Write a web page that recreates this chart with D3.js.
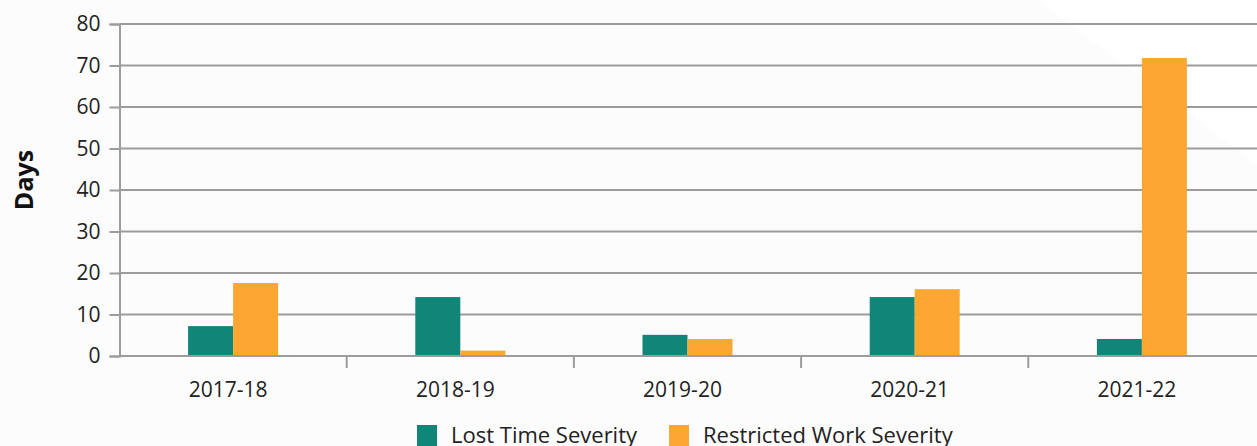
<!DOCTYPE html>
<html>
<head>
<meta charset="utf-8">
<script src="https://cdn.jsdelivr.net/npm/d3@7"></script>
<style>
  body { margin: 0; background: #fcfcfc; overflow: hidden; }
  text { font-family: "Open Sans", "Noto Sans", sans-serif; fill: #222; }
</style>
</head>
<body>
<div id="chart"></div>
<script>
// data
const years = ["2017-18", "2018-19", "2019-20", "2020-21", "2021-22"];
const lostTime = [7.2, 14.2, 5.1, 14.2, 4.1];
const restrictedWork = [17.6, 1.3, 4.1, 16.1, 71.8];
const yTicks = [0, 10, 20, 30, 40, 50, 60, 70, 80];
const seriesNames = ["Lost Time Severity", "Restricted Work Severity"];

const colors = ["#0f8677", "#fba732"];
const gridColor = "#9c9c9f";

const W = 1257, H = 446;
const margin = { top: 24, right: 1.5, bottom: 90, left: 119.5 };
const width = W - margin.left - margin.right;
const height = H - margin.top - margin.bottom;

const root = d3.select("#chart").append("svg")
    .attr("width", W)
    .attr("height", H);

// white corner at the top right of the background
root.append("polygon")
    .attr("points", `1038,0 ${W},0 ${W},165`)
    .attr("fill", "#ffffff");

const svg = root.append("g")
    .attr("transform", `translate(${margin.left},${margin.top})`);

const x0 = d3.scaleBand()
    .domain(years)
    .range([0, width]);

const x1 = d3.scaleBand()
    .domain(seriesNames)
    .range([0, 90])

const y = d3.scaleLinear()
    .domain([0, 80])
    .range([height, 0]);

// gridlines
svg.append("g")
    .selectAll("line")
    .data(yTicks.filter(d => d > 0))
    .enter()
    .append("line")
    .attr("x1", 0)
    .attr("x2", W)
    .attr("y1", d => y(d))
    .attr("y2", d => y(d))
    .attr("stroke", gridColor)
    .attr("stroke-width", 2);

// y axis
const yAxis = svg.append("g")
    .call(d3.axisLeft(y).tickValues(yTicks).tickSize(10).tickPadding(9));
yAxis.select(".domain").attr("stroke", gridColor).attr("stroke-width", 2);
yAxis.selectAll(".tick line").attr("stroke", gridColor).attr("stroke-width", 2);
yAxis.selectAll("text")
    .style("font-size", "21px")
    .style("fill", "#222")
    .style("font-family", "'Open Sans', sans-serif");

// bars
const groups = svg.selectAll(".year")
    .data(years)
    .enter()
    .append("g")
    .attr("transform", d => `translate(${x0(d) + x0.bandwidth() / 2 - 45},0)`);

groups.selectAll("rect")
    .data((d, i) => [lostTime[i], restrictedWork[i]])
    .enter()
    .append("rect")
    .attr("x", (d, j) => x1(seriesNames[j]))
    .attr("width", x1.bandwidth())
    .attr("y", d => y(d))
    .attr("height", d => height - y(d))
    .attr("fill", (d, j) => colors[j]);

// x axis
const xAxis = svg.append("g")
    .attr("transform", `translate(0,${height})`)
    .call(d3.axisBottom(x0).tickSize(0).tickPadding(26));
xAxis.select(".domain").attr("stroke", gridColor).attr("stroke-width", 2)
    .attr("d", `M0,0H${W}`);
xAxis.selectAll("text")
    .attr("dx", -5)
    .style("font-size", "21px")
    .style("fill", "#222")
    .style("font-family", "'Open Sans', sans-serif");

// separators between categories
svg.append("g")
    .selectAll("line")
    .data(years.slice(1))
    .enter()
    .append("line")
    .attr("x1", d => x0(d))
    .attr("x2", d => x0(d))
    .attr("y1", height)
    .attr("y2", height + 12)
    .attr("stroke", gridColor)
    .attr("stroke-width", 2);

// y label
root.append("text")
    .attr("transform", `translate(33,${margin.top + height / 2 - 10}) rotate(-90)`)
    .style("text-anchor", "middle")
    .style("font-weight", "bold")
    .style("font-size", "25px")
    .style("fill", "#111")
    .text("Days");

// legend
const legend = root.append("g").attr("transform", "translate(417,425)");
const legendX = [0, 252];
seriesNames.forEach((name, i) => {
    const item = legend.append("g").attr("transform", `translate(${legendX[i]},0)`);
    item.append("rect")
        .attr("width", 20)
        .attr("height", 21)
        .attr("fill", colors[i]);
    item.append("text")
        .attr("x", 34)
        .attr("y", 18)
        .style("font-size", "22px")
        .text(name);
});
</script>
</body>
</html>
